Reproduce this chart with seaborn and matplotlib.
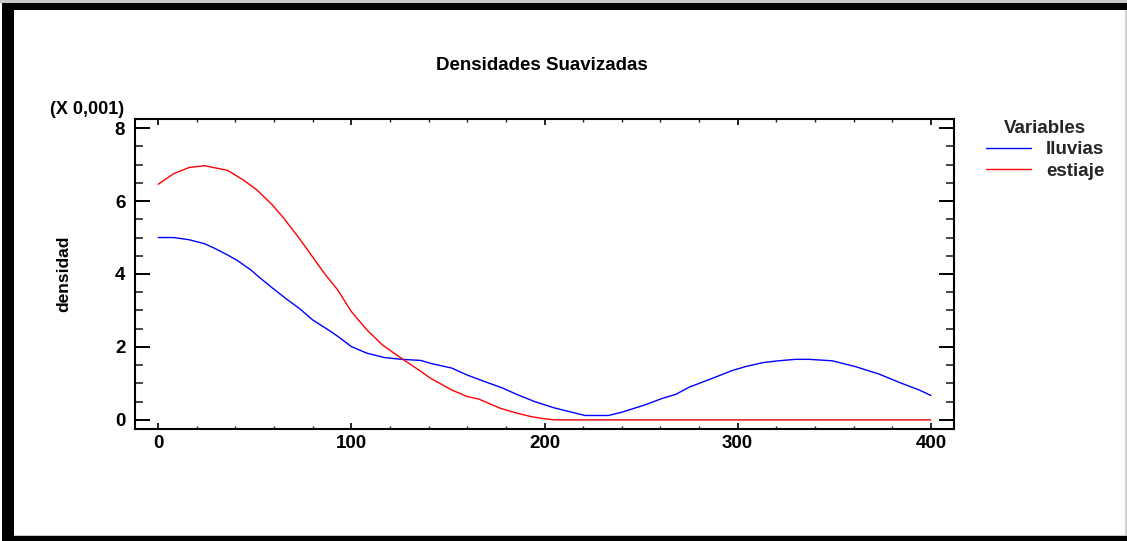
import numpy as np
import pandas as pd
import matplotlib
matplotlib.use("Agg")
import matplotlib.pyplot as plt
from matplotlib.patches import Rectangle
from matplotlib.ticker import MultipleLocator
import seaborn as sns

# ---- data, densities in units of 0.001 ----
lluvias_x = [0, 8, 16, 24, 29, 36, 41, 48, 53, 60, 67, 73, 80, 88, 93, 100, 108, 117,
             126, 136, 141, 152, 157, 160, 169, 178, 186, 195, 205, 221, 233,
             240, 252, 261, 268, 275, 285, 297, 304, 313, 321, 330, 337, 349, 361, 373,
             385, 394, 400]
lluvias_y = [5.00, 5.00, 4.94, 4.83, 4.71, 4.52, 4.37, 4.11, 3.88, 3.58, 3.29, 3.06, 2.74,
             2.47, 2.29, 2.01, 1.83, 1.71, 1.66, 1.63, 1.55, 1.42, 1.30, 1.23, 1.05, 0.88,
             0.69, 0.50, 0.33, 0.12, 0.12, 0.21, 0.41, 0.59, 0.70, 0.90, 1.10,
             1.35, 1.46, 1.57, 1.62, 1.66, 1.66, 1.62, 1.46, 1.26, 1.00, 0.82, 0.67]

estiaje_x = [0, 8, 16, 24, 36, 44, 51, 59, 65, 73, 81, 86, 93, 100, 108, 116, 121, 127,
             136, 141, 152, 160, 166, 177, 186, 193, 200, 205, 250, 300, 350, 400]
estiaje_y = [6.46, 6.75, 6.92, 6.97, 6.84, 6.58, 6.31, 5.90, 5.53, 4.98, 4.39, 4.02, 3.56,
             2.97, 2.47, 2.06, 1.87, 1.65, 1.33, 1.14, 0.82, 0.64, 0.57, 0.32, 0.18, 0.09,
             0.03, 0.0, 0.0, 0.0, 0.0, 0.0]

series_names = ["lluvias", "estiaje"]
series_colors = ["#0000ff", "#ff0000"]
x_ticks = [0, 100, 200, 300, 400]
y_ticks = [0, 2, 4, 6, 8]

df = pd.concat([
    pd.DataFrame({"x": lluvias_x, "densidad": lluvias_y, "Variables": series_names[0]}),
    pd.DataFrame({"x": estiaje_x, "densidad": estiaje_y, "Variables": series_names[1]}),
], ignore_index=True)

sns.set_theme(style="white")
plt.rcParams["font.family"] = ["Liberation Sans", "DejaVu Sans"]
plt.rcParams["font.weight"] = "bold"

FS = 13.5
W, H = 1127, 541
fig = plt.figure(figsize=(W / 100, H / 100), dpi=100)
fig.patch.set_facecolor("white")
ax = fig.add_axes([135 / W, (H - 429) / H, (954 - 135) / W, (429 - 119) / H])

sns.lineplot(data=df, x="x", y="densidad", hue="Variables", hue_order=series_names,
             palette=series_colors, sort=False, estimator=None, linewidth=1.0, ax=ax)

ax.set_xlim(-12, 412)
ax.set_ylim(-0.25, 8.25)
ax.set_xticks(x_ticks)
ax.set_yticks(y_ticks)
ax.xaxis.set_minor_locator(MultipleLocator(20))
ax.yaxis.set_minor_locator(MultipleLocator(0.5))
ax.set_xticklabels([str(v) for v in x_ticks], fontsize=FS, fontweight="bold")
ax.set_yticklabels([str(v) for v in y_ticks], fontsize=FS, fontweight="bold")

for s in ax.spines.values():
    s.set_visible(True)
    s.set_color("black")
    s.set_linewidth(1.5)

ax.tick_params(axis="x", which="major", direction="in", length=4.5, width=1.2,
               top=True, bottom=True, pad=4, colors="black")
ax.tick_params(axis="x", which="minor", direction="in", length=2.5, width=1.0,
               top=True, bottom=True)
ax.tick_params(axis="y", which="major", direction="in", length=11, width=1.4,
               left=True, right=True, pad=7, colors="black")
ax.tick_params(axis="y", which="minor", direction="in", length=5.5, width=1.2,
               left=True, right=True)

ax.set_xlabel("")
ax.set_ylabel("densidad", fontsize=12.5, fontweight="bold", color="black")
ax.yaxis.set_label_coords((64 - 135) / (954 - 135), 0.5)
ax.yaxis.label.set_va("center")

fig.text(542 / W, (H - 66) / H, "Densidades Suavizadas", ha="center", va="center",
         fontsize=FS, fontweight="bold", color="black")
fig.text(87 / W, (H - 110) / H, "(X 0,001)", ha="center", va="center",
         fontsize=13, fontweight="bold", color="black")

handles, labels = ax.get_legend_handles_labels()
ax.get_legend().remove()
leg = fig.legend(handles, labels, title="Variables", loc="upper left",
                 bbox_to_anchor=(986 / W, (H - 120) / H), bbox_transform=fig.transFigure,
                 frameon=False, borderpad=0, borderaxespad=0, handlelength=2.4,
                 handletextpad=0.8, labelspacing=0.22,
                 prop={"size": FS, "weight": "bold"},
                 title_fontproperties={"size": FS, "weight": "bold"})
leg._legend_box.sep = 3
for line in leg.get_lines():
    line.set_linewidth(1.0)

# outer frame of the picture
def rect(x0, y0, x1, y1, color):
    fig.add_artist(Rectangle((x0 / W, (H - y1) / H), (x1 - x0) / W, (y1 - y0) / H,
                             transform=fig.transFigure, facecolor=color,
                             edgecolor="none", zorder=10))

rect(0, 0, W, 3, "#c8c8c8")
rect(2, 3, W, 10, "black")
rect(2, 3, 14, H, "black")
rect(14, 535, W, 536, "#c8c8c8")
rect(2, 536, W, H, "black")
rect(1125, 10, 1127, 535, "#d0d0d0")

fig.savefig("out.png", dpi=100)
